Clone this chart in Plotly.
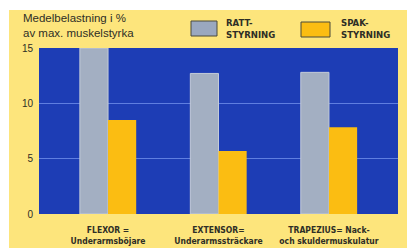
import plotly.graph_objects as go

categories = ["FLEXOR =<br>Underarmsböjare", "EXTENSOR=<br>Underarmssträckare", "TRAPEZIUS= Nack-<br>och skuldermuskulatur"]
series_names = ["RATT-<br>STYRNING", "SPAK-<br>STYRNING"]
ratt_values = [15.0, 12.7, 12.8]
spak_values = [8.5, 5.7, 7.85]
y_ticks = [0, 5, 10, 15]

# the page body adds an 8px offset; lay the figure out in window pixel terms
OFF = 8
W, H = 415 - OFF, 251 - OFF
PL, PR, PT, PB = 39, 398, 48, 214  # plot area in window pixels
ML, MR, MT, MB = PL - OFF, 415 - PR, PT - OFF, 251 - PB
PW, PH = PR - PL, PB - PT

def px(x):
    return (x - PL) / PW

def py(y):
    return (PB - y) / PH

xpos = [0, 1, 2]
fig = go.Figure()
fig.add_trace(go.Bar(x=xpos, y=ratt_values, name=series_names[0],
                     marker=dict(color="#a3afc2", line=dict(color="#c3cbd8", width=1)),
                     offsetgroup="a"))
fig.add_trace(go.Bar(x=xpos, y=spak_values, name=series_names[1],
                     marker=dict(color="#fbbd12", line=dict(width=0)),
                     offsetgroup="b"))

white = dict(fillcolor="white", line=dict(width=0), layer="below", type="rect", xref="paper", yref="paper")
shapes = [
    dict(white, x0=px(0), x1=px(420), y0=py(10), y1=py(0)),
    dict(white, x0=px(0), x1=px(420), y0=py(260), y1=py(248)),
    dict(white, x0=px(0), x1=px(9), y0=py(260), y1=py(0)),
    # legend boxes
    dict(type="rect", xref="paper", yref="paper", x0=px(191), x1=px(217), y0=py(36), y1=py(21),
         fillcolor="#9aa8bf", line=dict(color="#4a4a3a", width=1)),
    dict(type="rect", xref="paper", yref="paper", x0=px(301), x1=px(330), y0=py(37), y1=py(22),
         fillcolor="#fbbd12", line=dict(color="#4a4a3a", width=1)),
]

annotations = [
    dict(xref="paper", yref="paper", x=px(21), y=py(25), xanchor="left", yanchor="middle",
         text="Medelbelastning i %<br>av max. muskelstyrka", showarrow=False, align="left",
         font=dict(family="Liberation Sans, Arial", size=11.5, color="#2e2e26")),
    dict(xref="paper", yref="paper", x=px(224), y=py(28), xanchor="left", yanchor="middle",
         text="<b>" + series_names[0] + "</b>", showarrow=False, align="left",
         font=dict(family="Liberation Sans Narrow, DejaVu Sans Condensed", size=9.5, color="#2e2e26")),
    dict(xref="paper", yref="paper", x=px(339), y=py(28), xanchor="left", yanchor="middle",
         text="<b>" + series_names[1] + "</b>", showarrow=False, align="left",
         font=dict(family="Liberation Sans Narrow, DejaVu Sans Condensed", size=9.5, color="#2e2e26")),
]

fig.update_layout(
    width=W, height=H,
    margin=dict(l=ML, r=MR, t=MT, b=MB, pad=0),
    paper_bgcolor="#fde57c",
    plot_bgcolor="#1d3db5",
    barmode="group",
    bargap=0.49,
    bargroupgap=0,
    showlegend=False,
    shapes=shapes,
    annotations=annotations,
    xaxis=dict(range=[-0.625, 2.625], tickvals=xpos, ticktext=["<b>" + c + "</b>" for c in categories],
               showgrid=False, zeroline=False, showline=False, ticks="", automargin=False,
               ticklabelstandoff=9,
               tickfont=dict(family="Liberation Sans Narrow, DejaVu Sans Condensed", size=8.5, color="#2e2e26")),
    yaxis=dict(range=[0, 15], tickvals=y_ticks, showgrid=True, gridcolor="#5f7ee0", gridwidth=1,
               zeroline=False, showline=False, ticks="", ticklabelstandoff=5, automargin=False,
               tickfont=dict(family="Liberation Sans, Arial", size=10, color="#2e2e26")),
)

fig.write_html("out.html")
